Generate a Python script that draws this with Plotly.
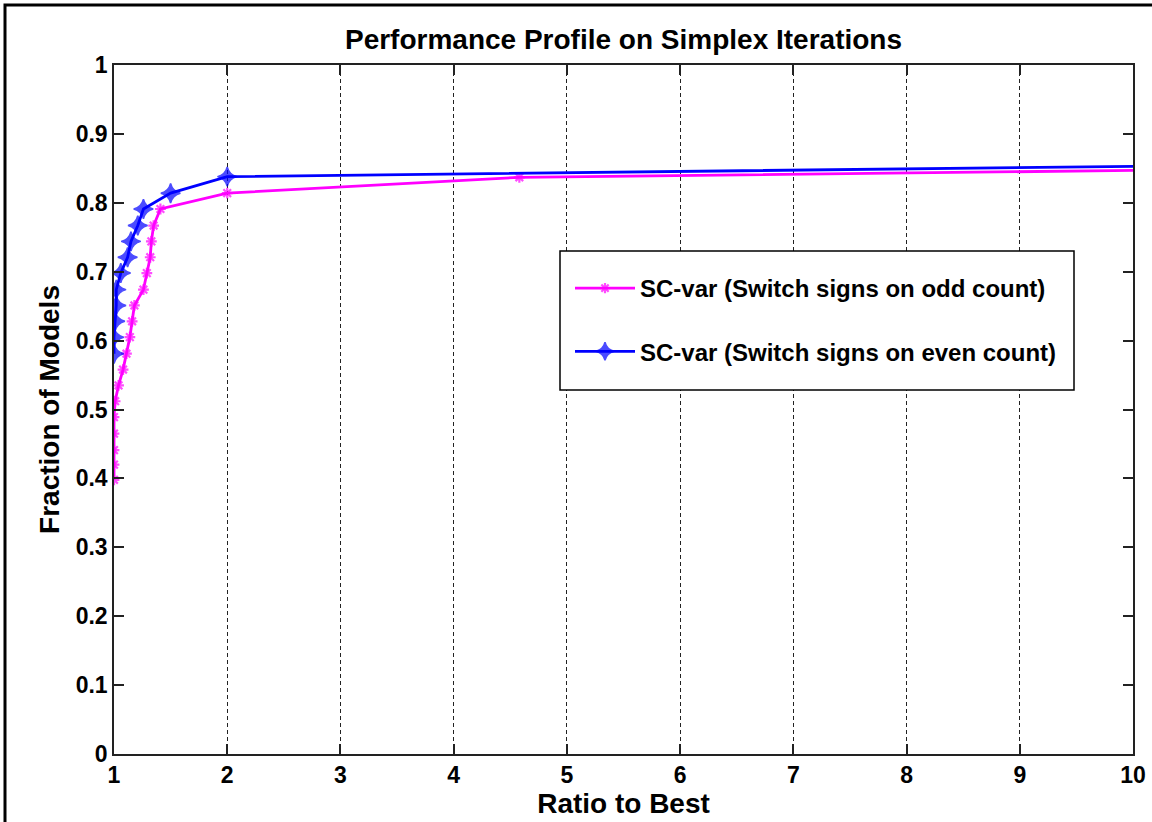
import plotly.graph_objects as go

# ---- data ----
odd_x = [1.0, 1.0, 1.0, 1.0, 1.0, 1.01, 1.04, 1.08, 1.11, 1.14, 1.16, 1.18,
         1.26, 1.29, 1.32, 1.33, 1.35, 1.41, 2.0, 4.58, 10.0]
odd_y = [0.398, 0.420, 0.441, 0.465, 0.489, 0.512, 0.535, 0.558, 0.581, 0.605,
         0.628, 0.651, 0.674, 0.698, 0.721, 0.744, 0.767, 0.791, 0.814, 0.837, 0.847]

even_x = [1.0, 1.0, 1.01, 1.02, 1.02, 1.06, 1.12, 1.15, 1.21, 1.26, 1.5, 2.0, 10.0]
even_y = [0.581, 0.605, 0.628, 0.651, 0.674, 0.698, 0.721, 0.744, 0.767, 0.791,
          0.814, 0.838, 0.853]

series_names = ["SC-var (Switch signs on odd count)",
                "SC-var (Switch signs on even count)"]
x_ticks = [1, 2, 3, 4, 5, 6, 7, 8, 9, 10]
y_ticks = [0, 0.1, 0.2, 0.3, 0.4, 0.5, 0.6, 0.7, 0.8, 0.9, 1]
y_tick_text = ["0", "0.1", "0.2", "0.3", "0.4", "0.5", "0.6", "0.7", "0.8", "0.9", "1"]

title_text = "Performance Profile on Simplex Iterations"
x_title = "Ratio to Best"
y_title = "Fraction of Models"

# ---- geometry (pixels) ----
W, H = 1152, 822
L, R, T, B = 114, 1133, 65, 754


def px(x):
    return (x - L) / (R - L)


def py(y):
    return (B - y) / (B - T)


FONT = "Liberation Sans, Arial, sans-serif"

fig = go.Figure()

fig.add_trace(go.Scatter(
    x=odd_x, y=odd_y, name=series_names[0], mode="lines+markers",
    legendgroup="a",
    line=dict(color="#FF00FF", width=2.8),
    marker=dict(symbol="asterisk-open", size=[9] * (len(odd_x) - 1) + [0],
                color="#FF00FF", line=dict(color="#FF00FF", width=2.2)),
))
fig.add_trace(go.Scatter(
    x=even_x, y=even_y, name=series_names[1], mode="lines+markers",
    legendgroup="b",
    line=dict(color="#0000FF", width=2.8),
    marker=dict(symbol="star-diamond", size=[14] * (len(even_x) - 1) + [0],
                color="#0000FF", line=dict(color="#0000FF", width=1.5)),
))

axis_common = dict(
    showline=True, linecolor="#222222", linewidth=1.5, mirror="ticks",
    ticks="inside", ticklen=10, tickwidth=1.5, tickcolor="#222222",
    tickfont=dict(family=FONT, size=23, color="black", weight="bold"),
    zeroline=False, automargin=False,
)

fig.update_layout(
    width=W, height=H,
    margin=dict(l=L, r=W - R, t=T, b=H - B, pad=0, autoexpand=False),
    paper_bgcolor="white", plot_bgcolor="white",
    title=dict(text=title_text, x=0.5 * (L + R) / W, xanchor="center",
               y=1 - 39 / H, yanchor="middle",
               font=dict(family=FONT, size=28, color="black", weight="bold")),
    xaxis=dict(range=[1, 10], tickvals=x_ticks,
               showgrid=True, gridcolor="#222222", gridwidth=1,
               griddash="4px,3px",
               title=dict(text=x_title, standoff=5,
                          font=dict(family=FONT, size=28, color="black", weight="bold")),
               **axis_common),
    yaxis=dict(range=[0, 1], tickvals=y_ticks, ticktext=y_tick_text,
               showgrid=False,
               title=dict(text=y_title, standoff=8,
                          font=dict(family=FONT, size=28, color="black", weight="bold")),
               **axis_common),
    legend=dict(x=px(570), y=py(266), xanchor="left", yanchor="top",
                bgcolor="rgba(0,0,0,0)", borderwidth=0,
                traceorder="grouped", tracegroupgap=29, itemwidth=60,
                font=dict(family=FONT, size=24, color="black", weight="bold")),
    showlegend=True,
    shapes=[
        # legend box
        dict(type="rect", xref="paper", yref="paper",
             x0=px(560), x1=px(1074), y0=py(390), y1=py(251),
             fillcolor="white", line=dict(color="black", width=1.5), layer="above"),
        # outer frame of the figure
        dict(type="rect", xref="paper", yref="paper",
             x0=px(5), x1=px(1170), y0=py(840), y1=py(5),
             fillcolor="rgba(0,0,0,0)", line=dict(color="black", width=3), layer="above"),
    ],
)

fig.write_html("out.html")
